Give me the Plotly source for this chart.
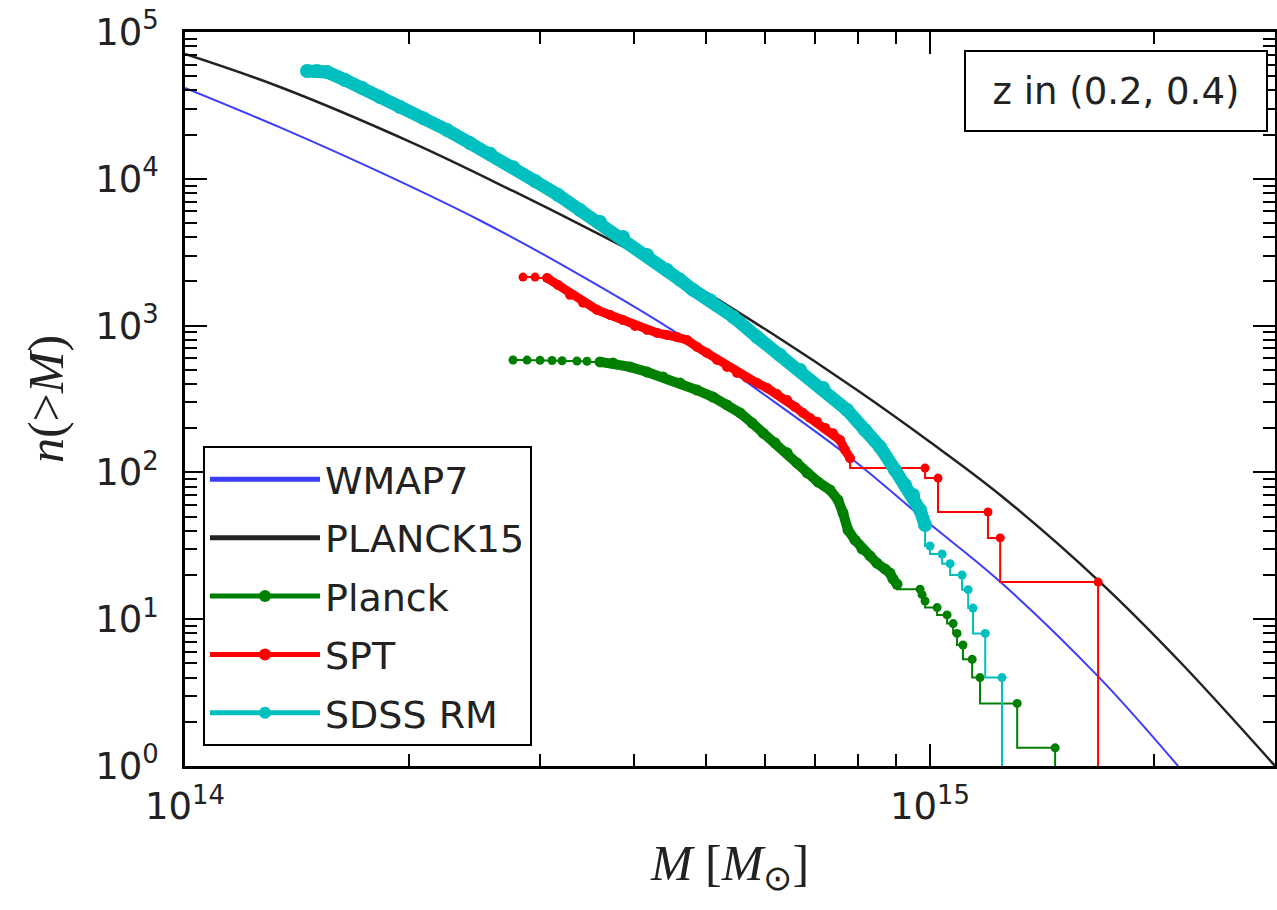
import numpy as np
import plotly.graph_objects as go

# ---------------- data (M in units of 1e14 Msun, n(>M)) ----------------
wmap7_M = [1.0, 1.341, 1.827, 2.489, 3.390, 4.519, 5.913, 7.88, 9.79, 12.42, 16.91, 21.52]
wmap7_n = [4.16e4, 2.24e4, 1.11e4, 5.2e3, 2.21e3, 925, 355, 122, 48.5, 18.0, 3.95, 1.0]

planck15_M = [1.0, 1.341, 2.023, 2.756, 3.529, 4.618, 6.10, 7.98, 10.0, 12.42, 16.91, 21.66, 29.05]
planck15_n = [7.08e4, 4.22e4, 1.75e4, 8.26e3, 4.40e3, 2.15e3, 900, 364, 161, 70.2, 17.9, 5.11, 1.0]

# Planck clusters (cumulative)
planck_M = [2.756, 2.878, 2.996, 3.109, 3.207, 3.358, 3.464, 3.606, 3.754, 3.957, 4.171,
            4.381, 4.618, 4.867, 5.113, 5.340, 5.559, 5.770, 5.970, 6.194, 6.429, 6.630,
            6.840, 7.074, 7.341, 7.524, 7.642, 7.761, 7.931, 8.103, 8.307, 8.485, 8.700,
            8.835, 8.918, 9.030,
            9.696, 9.757, 9.847, 10.22, 10.54, 10.74, 10.87, 11.07, 11.39, 11.67, 13.09, 14.72]
planck_n = [583, 582, 580, 578, 576, 574, 572, 566, 556, 523, 483,
            447, 406, 364, 326, 288, 254, 217, 185, 159, 136, 116,
            99.1, 86.0, 75.9, 64.9, 52.9, 40.5, 34.6, 30.1, 27.0, 24.1, 22.0,
            20.6, 18.8, 17.3,
            16.0, 14.7, 13.3, 12.0, 10.7, 9.33, 8.0, 6.67, 5.33, 4.0, 2.67, 1.33]
planck_dense = (7, 35)   # index range drawn as dense band

# SPT clusters
spt_M = [2.842, 2.950, 3.062, 3.168, 3.287, 3.422, 3.573, 3.720, 3.872, 4.018, 4.171,
         4.302, 4.436, 4.576, 4.718, 4.867, 5.019, 5.178, 5.340, 5.508, 5.680, 5.860,
         6.044, 6.232, 6.429, 6.590, 6.753, 6.901, 7.053, 7.230, 7.410, 7.572, 7.690, 7.810,
         9.847, 10.25, 11.96, 12.42, 16.81]
spt_n = [2140, 2140, 2110, 1890, 1620, 1430, 1280, 1180, 1090, 994, 933,
         891, 863, 836, 798, 715, 651, 583, 523, 476, 440, 406,
         376, 342, 311, 279, 254, 235, 221, 201, 185, 166, 142, 125,
         107, 91.5, 53.7, 35.8, 17.9]
spt_dense = (2, 33)

# SDSS redMaPPer clusters
sdss_M = [1.458, 1.504, 1.551, 1.640, 1.729, 1.827, 1.944, 2.087, 2.247, 2.413, 2.567,
          2.756, 2.950, 3.168, 3.390, 3.606, 3.872, 4.171, 4.436, 4.618, 4.808, 5.067,
          5.440, 5.860, 6.291, 6.692, 7.185, 7.738, 8.180, 8.568, 8.974, 9.258, 9.489,
          9.696, 9.847,
          10.0, 10.38, 10.64, 11.04, 11.25, 11.42, 11.86, 12.49]
sdss_n = [5.42e4, 5.42e4, 5.34e4, 4.71e4, 4.16e4, 3.61e4, 3.08e4, 2.59e4, 2.15e4, 1.75e4, 1.48e4,
          1.20e4, 9.66e3, 7.76e3, 6.13e3, 5.08e3, 4.02e3, 3.03e3, 2.39e3, 2.05e3, 1.75e3, 1.49e3,
          1.15e3, 836, 631, 499, 376, 266, 194, 149, 104, 82.1, 70.2,
          55.5, 43.8,
          31.5, 27.8, 23.9, 20.0, 15.9, 11.9, 8.0, 4.0]
sdss_dense = (0, 34)

x_tickvals = [1e14, 1e15]
x_ticktext = ["10<sup>14</sup>", "10<sup>15</sup>"]
y_tickvals = [1, 10, 100, 1e3, 1e4, 1e5]
y_ticktext = ["10<sup>%d</sup>" % i for i in range(6)]

UNIT = 1e14
FLOOR = 1e-3  # n = 0 after the last cluster (drawn off the log axis)

fig = go.Figure()


def theory(M, n, color, name, width):
    fig.add_trace(go.Scatter(
        x=np.array(M) * UNIT, y=n, mode="lines", name=name,
        line=dict(color=color, width=width, shape="spline", smoothing=1.0),
        legendgroup=name))


def clusters(M, n, dense, color, name, band):
    M = list(np.array(M) * UNIT)
    n = list(n)
    i0, i1 = dense
    # dense part: overlapping markers form a thick band
    fig.add_trace(go.Scatter(
        x=M[i0:i1 + 1], y=n[i0:i1 + 1], mode="lines+markers", showlegend=False,
        line=dict(color=color, width=band), marker=dict(color=color, size=band + 1),
        hoverinfo="skip", legendgroup=name))
    # sparse parts: step line with markers
    xs = M[:i0 + 1] + [None] + M[i1:] + [M[-1]]
    ys = n[:i0 + 1] + [None] + n[i1:] + [FLOOR]
    fig.add_trace(go.Scatter(
        x=xs, y=ys, mode="lines+markers", name=name, legendgroup=name,
        connectgaps=False,
        line=dict(color=color, width=2, shape="vh"),
        marker=dict(color=color, size=9, line=dict(width=0))))


theory(wmap7_M, wmap7_n, "rgb(60,60,255)", "WMAP7", 2)
theory(planck15_M, planck15_n, "#222222", "PLANCK15", 2.5)
clusters(planck_M, planck_n, planck_dense, "#008000", "Planck", 10)
clusters(spt_M, spt_n, spt_dense, "#ff0000", "SPT", 9)
clusters(sdss_M, sdss_n, sdss_dense, "#00bfbf", "SDSS RM", 13)

minor_x = [k * 10.0 ** d for d in (14, 15) for k in range(2, 10)]
minor_y = [k * 10.0 ** d for d in range(0, 5) for k in range(2, 10)]

tickfont = dict(family="DejaVu Sans", size=37, color="#222222")
axis_common = dict(
    showline=True, linecolor="black", linewidth=2.5, mirror="allticks",
    ticks="inside", ticklen=22, tickwidth=1.8, tickcolor="black",
    showgrid=False, zeroline=False, tickfont=tickfont,
)

fig.update_xaxes(
    type="log", range=[14, 15.463],
    tickmode="array", tickvals=x_tickvals, ticktext=x_ticktext,
    minor=dict(tickmode="array", tickvals=minor_x, ticks="inside", ticklen=12,
               tickwidth=1.5, tickcolor="black"),
    ticklabelstandoff=6,
    title=dict(text="<i>M</i> [<i>M</i><sub>⊙</sub>]",
               font=dict(family="Liberation Serif", size=50, color="#222222"),
               standoff=18),
    **axis_common)
fig.update_yaxes(
    type="log", range=[0, 5],
    tickmode="array", tickvals=y_tickvals, ticktext=y_ticktext,
    minor=dict(tickmode="array", tickvals=minor_y, ticks="inside", ticklen=12,
               tickwidth=1.5, tickcolor="black"),
    ticklabelstandoff=16,
    title=dict(text="<i>n</i>(&gt;<i>M</i>)",
               font=dict(family="Liberation Serif", size=50, color="#222222"),
               standoff=16),
    **axis_common)

fig.add_annotation(
    xref="paper", yref="paper", x=0.9936, y=0.9755, xanchor="right", yanchor="top",
    text="z in (0.2, 0.4)", showarrow=False,
    font=dict(family="DejaVu Sans", size=37, color="#222222"),
    bordercolor="black", borderwidth=2, borderpad=14, bgcolor="white",
    width=272, height=50)

fig.update_layout(
    width=1277, height=910,
    margin=dict(l=185, r=2, t=32, b=144, autoexpand=False),
    paper_bgcolor="white", plot_bgcolor="white",
    showlegend=True,
    legend=dict(x=0.0165, y=0.0272, xanchor="left", yanchor="bottom",
                bgcolor="white", bordercolor="black", borderwidth=2,
                font=dict(family="DejaVu Sans", size=38, color="#222222"),
                itemwidth=110, tracegroupgap=6, itemsizing="constant"),
)

fig.write_html("out.html")
